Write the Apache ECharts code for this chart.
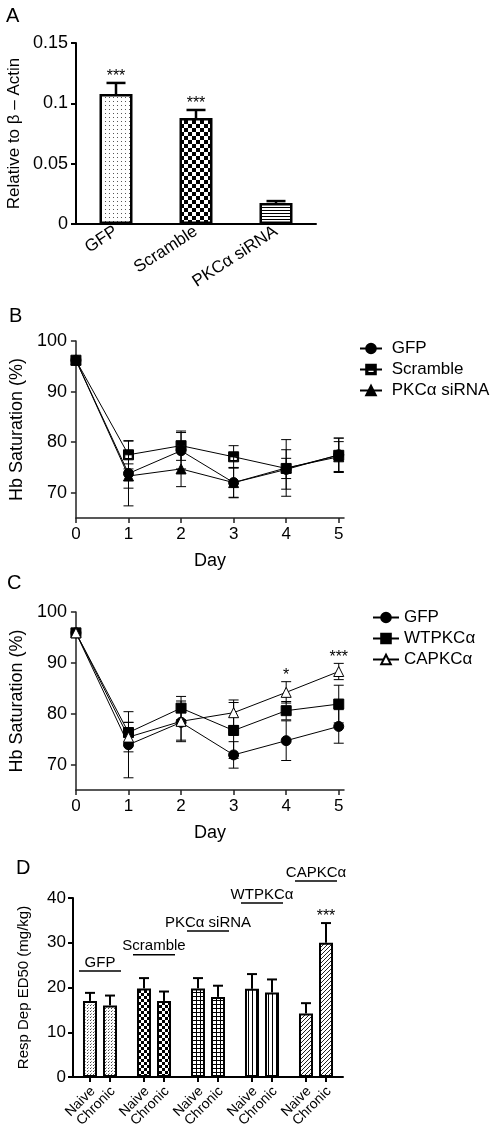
<!DOCTYPE html>
<html><head><meta charset="utf-8">
<script src="https://cdn.jsdelivr.net/npm/echarts@6/dist/echarts.min.js"></script>
<style>html,body{margin:0;padding:0;background:#fff}#c{width:494px;height:1132px}</style>
</head><body><div id="c"></div>
<script>
// ---------- DATA ----------
// Panel A
const catsA = ['GFP', 'Scramble', 'PKCα siRNA'];
const valsA = [0.1077, 0.0878, 0.0174];
const errA = [0.0092, 0.0067, 0.0016];
const starsA = ['***', '***', ''];
const ticksA = [0, 0.05, 0.1, 0.15];

// Panels B & C
const days = [0, 1, 2, 3, 4, 5];
const dayTicks = [0, 1, 2, 3, 4, 5];
const hbTicks = [70, 80, 90, 100];

const namesB = ['GFP', 'Scramble', 'PKCα siRNA'];
const bGFP = [96.2, 73.8, 78.3, 72.0, 74.6, 77.5];
const bGFPErr = [0, 6.4, 3.6, 3.0, 3.9, 3.3];
const bScr = [96.2, 77.5, 79.3, 77.1, 74.8, 77.4];
const bScrErr = [0, 2.8, 2.9, 2.2, 2.0, 3.4];
const bPKC = [96.2, 73.3, 74.7, 72.0, 74.9, 77.1];
const bPKCErr = [0, 2.4, 3.5, 2.9, 5.6, 3.0];

const namesC = ['GFP', 'WTPKCα', 'CAPKCα'];
const cGFP = [95.9, 73.9, 78.3, 71.9, 74.7, 77.5];
const cGFPErr = [0, 6.5, 3.5, 2.6, 3.9, 3.3];
const cWT = [95.9, 76.3, 81.1, 76.7, 80.6, 81.9];
const cWTErr = [0, 2.0, 2.3, 5.5, 1.8, 3.7];
const cCA = [95.9, 75.4, 78.5, 80.2, 84.2, 88.3];
const cCAErr = [0, 2.9, 4.0, 2.5, 2.1, 1.6];
const starsCA = ['', '', '', '', '*', '***'];

// Panel D
const groupsD = ['GFP', 'Scramble', 'PKCα siRNA', 'WTPKCα', 'CAPKCα'];
const condsD = ['Naive', 'Chronic'];
const naiveD = [17.0, 19.8, 19.8, 19.7, 14.2];
const naiveErrD = [1.8, 2.3, 2.3, 3.3, 2.3];
const chronicD = [16.0, 17.0, 17.9, 18.9, 30.0];
const chronicErrD = [2.2, 2.1, 2.5, 2.9, 4.4];
const starsChronicD = ['', '', '', '', '***'];
const ticksD = [0, 10, 20, 30, 40];

// ---------- STYLE / LAYOUT ----------
const FONT = '"Liberation Sans", Arial, Helvetica, sans-serif';
const labelLevelsD = [23.7, 27.3, 32.6, 38.9, 43.8]; // heights of group captions (in y units)
const BAR_W_D = 14, BAR_GAP_D = 0.43;

function pat(size, draw) {
  const c = document.createElement('canvas');
  c.width = c.height = size;
  const g = c.getContext('2d');
  g.fillStyle = '#fff'; g.fillRect(0, 0, size, size);
  g.fillStyle = '#000';
  draw(g, size);
  return { image: c, repeat: 'repeat' };
}
const patsA = [
  pat(4, g => { g.fillStyle = '#555'; g.fillRect(1, 1, 1, 1); }),
  pat(8, g => { g.fillRect(0, 0, 4, 4); g.fillRect(4, 4, 4, 4); }),
  pat(3, g => { g.fillRect(0, 0, 3, 1); })
];
const patsD = [
  pat(3, g => { g.fillStyle = '#444'; g.fillRect(0, 0, 1, 1); g.fillStyle = '#999'; g.fillRect(1, 2, 1, 1); }),
  pat(6, g => { g.fillRect(0, 0, 3, 3); g.fillRect(3, 3, 3, 3); }),
  pat(4, g => { g.fillRect(0, 0, 4, 1); g.fillRect(0, 0, 1, 4); }),
  pat(4, g => { g.fillRect(0, 0, 1, 4); }),
  pat(4, g => { g.fillStyle = '#222'; for (let i = 0; i < 4; i++) g.fillRect(i, 3 - i, 1, 1); })
];

const txt = { color: '#000', fontFamily: FONT };

function errRender(capW, lw, stars) {
  return function (params, api) {
    const x = api.value(0), y = api.value(1), e = api.value(2);
    if (!e) return { type: 'group', children: [] };
    const top = api.coord([x, y + e]), bot = api.coord([x, y - e]);
    const st = { stroke: '#000', lineWidth: lw };
    const ch = [
      { type: 'line', shape: { x1: top[0], y1: top[1], x2: bot[0], y2: bot[1] }, style: st },
      { type: 'line', shape: { x1: top[0] - capW / 2, y1: top[1], x2: top[0] + capW / 2, y2: top[1] }, style: st },
      { type: 'line', shape: { x1: bot[0] - capW / 2, y1: bot[1], x2: bot[0] + capW / 2, y2: bot[1] }, style: st }
    ];
    const s = stars && stars[params.dataIndex];
    if (s) ch.push({ type: 'text', x: top[0], y: top[1] - 6, style: { text: s, fill: '#000', font: '16px ' + FONT, align: 'center', verticalAlign: 'middle' } });
    return { type: 'group', children: ch };
  };
}

// Bar error bars (upper only), with an x offset in px for grouped bars
function barErrRender(capW, lw, stars, offset, drawTick) {
  return function (params, api) {
    const i = api.value(0), y = api.value(1), e = api.value(2);
    const base = api.coord([i, 0]);
    const p0 = api.coord([i, y]), p1 = api.coord([i, y + e]);
    const cx = p0[0] + offset;
    const st = { stroke: '#000', lineWidth: lw };
    const ch = [
      { type: 'line', shape: { x1: cx, y1: p0[1], x2: cx, y2: p1[1] }, style: st },
      { type: 'line', shape: { x1: cx - capW / 2, y1: p1[1], x2: cx + capW / 2, y2: p1[1] }, style: st }
    ];
    if (drawTick) ch.push({ type: 'line', shape: { x1: cx, y1: base[1], x2: cx, y2: base[1] + 5 }, style: { stroke: '#000', lineWidth: 2 } });
    const s = stars && stars[params.dataIndex];
    if (s) ch.push({ type: 'text', x: cx, y: p1[1] - 6, style: { text: s, fill: '#000', font: '16px ' + FONT, align: 'center', verticalAlign: 'middle' } });
    return { type: 'group', children: ch };
  };
}

const halfSquare = 'path://M0,0H10V10H0ZM1.3,5V8.7H8.7V5Z';

function lineSeries(name, vals, axis, symbol, itemStyle) {
  return {
    name, type: 'line', xAxisIndex: axis, yAxisIndex: axis,
    data: days.map((d, i) => [d, vals[i]]),
    symbol, symbolSize: 10, showSymbol: true,
    lineStyle: { color: '#000', width: 1 },
    itemStyle: Object.assign({ color: '#000', borderColor: '#000', borderWidth: 1 }, itemStyle || {}),
    z: 3, animation: false
  };
}
function errSeries(vals, errs, axis, stars) {
  return {
    type: 'custom', xAxisIndex: axis, yAxisIndex: axis,
    data: days.map((d, i) => [d, vals[i], errs[i]]),
    renderItem: errRender(10, 1, stars), z: 2, animation: false, silent: true
  };
}

const valueAxisCommon = {
  splitLine: { show: false },
  axisLine: { show: true, lineStyle: { color: '#222', width: 1.5 } },
  axisTick: { show: true, length: 5, lineStyle: { color: '#222', width: 1.5 } },
};

const offD = (BAR_W_D * (1 + BAR_GAP_D)) / 2;

const panelLetters = [
  { type: 'text', left: 6, top: 6, style: { text: 'A', font: '20px ' + FONT, fill: '#000' } },
  { type: 'text', left: 9, top: 306, style: { text: 'B', font: '20px ' + FONT, fill: '#000' } },
  { type: 'text', left: 7, top: 573, style: { text: 'C', font: '20px ' + FONT, fill: '#000' } },
  { type: 'text', left: 16, top: 858, style: { text: 'D', font: '20px ' + FONT, fill: '#000' } }
];

const option = {
  animation: false,
  textStyle: { fontFamily: FONT },
  grid: [
    { left: 76, top: 43, width: 240, height: 181 },
    { left: 74, top: 341, width: 270, height: 177 },
    { left: 74, top: 612, width: 270, height: 178 },
    { left: 73, top: 898, width: 270, height: 179 }
  ],
  xAxis: [
    { gridIndex: 0, type: 'category', data: catsA,
      axisLine: { lineStyle: { color: '#000', width: 2 } },
      axisTick: { alignWithLabel: true, length: 5, lineStyle: { color: '#000', width: 2 } },
      axisLabel: Object.assign({ rotate: 33, fontSize: 17, margin: 6, interval: 0 }, txt) },
    Object.assign({}, valueAxisCommon, { gridIndex: 1, type: 'value', min: 0, max: 5.1,
      axisTick: Object.assign({}, valueAxisCommon.axisTick, { customValues: dayTicks }),
      axisLabel: Object.assign({ fontSize: 17, margin: 8, customValues: dayTicks }, txt),
      name: 'Day', nameLocation: 'middle', nameGap: 34, nameTextStyle: Object.assign({ fontSize: 18 }, txt) }),
    Object.assign({}, valueAxisCommon, { gridIndex: 2, type: 'value', min: 0, max: 5.1,
      axisTick: Object.assign({}, valueAxisCommon.axisTick, { customValues: dayTicks }),
      axisLabel: Object.assign({ fontSize: 17, margin: 8, customValues: dayTicks }, txt),
      name: 'Day', nameLocation: 'middle', nameGap: 34, nameTextStyle: Object.assign({ fontSize: 18 }, txt) }),
    { gridIndex: 3, type: 'category', data: groupsD,
      axisLine: { lineStyle: { color: '#000', width: 2 } },
      axisTick: { show: false }, axisLabel: { show: false } }
  ],
  yAxis: [
    { gridIndex: 0, type: 'value', min: 0, max: 0.15, interval: 0.05, splitLine: { show: false },
      axisLine: { show: true, lineStyle: { color: '#000', width: 2 } },
      axisTick: { show: true, length: 5, lineStyle: { color: '#000', width: 2 } },
      axisLabel: Object.assign({ fontSize: 18, margin: 8, customValues: ticksA }, txt),
      name: 'Relative to β – Actin', nameLocation: 'middle', nameGap: 53, nameTextStyle: Object.assign({ fontSize: 17 }, txt) },
    Object.assign({}, valueAxisCommon, { gridIndex: 1, type: 'value', min: 65, max: 100,
      axisTick: Object.assign({}, valueAxisCommon.axisTick, { customValues: hbTicks }),
      axisLabel: Object.assign({ fontSize: 18, margin: 9, customValues: hbTicks }, txt),
      name: 'Hb Saturation (%)', nameLocation: 'middle', nameGap: 47, nameTextStyle: Object.assign({ fontSize: 18 }, txt) }),
    Object.assign({}, valueAxisCommon, { gridIndex: 2, type: 'value', min: 65, max: 100,
      axisTick: Object.assign({}, valueAxisCommon.axisTick, { customValues: hbTicks }),
      axisLabel: Object.assign({ fontSize: 18, margin: 9, customValues: hbTicks }, txt),
      name: 'Hb Saturation (%)', nameLocation: 'middle', nameGap: 47, nameTextStyle: Object.assign({ fontSize: 18 }, txt) }),
    { gridIndex: 3, type: 'value', min: 0, max: 40, interval: 10, splitLine: { show: false },
      axisLine: { show: true, lineStyle: { color: '#000', width: 2 } },
      axisTick: { show: true, length: 5, lineStyle: { color: '#000', width: 2 } },
      axisLabel: Object.assign({ fontSize: 17, margin: 7, customValues: ticksD }, txt),
      name: 'Resp Dep ED50 (mg/kg)', nameLocation: 'middle', nameGap: 42, nameTextStyle: Object.assign({ fontSize: 15 }, txt) }
  ],
  legend: [
    { data: namesB, orient: 'vertical', left: 354, top: 335, itemWidth: 22, itemHeight: 12, itemGap: 4,
      selectedMode: false, formatter: n => ' ' + n, textStyle: Object.assign({ fontSize: 17 }, txt) },
    { data: namesC, orient: 'vertical', left: 367, top: 604, itemWidth: 26, itemHeight: 12, itemGap: 4,
      selectedMode: false, textStyle: Object.assign({ fontSize: 17 }, txt) }
  ],
  graphic: panelLetters,
  series: [
    // Panel A
    { name: 'relA', type: 'bar', xAxisIndex: 0, yAxisIndex: 0, barWidth: 33,
      data: valsA.map((v, i) => ({ value: v, itemStyle: { color: patsA[i] } })),
      itemStyle: { borderColor: '#000', borderWidth: 2.5 }, z: 2 },
    { type: 'custom', xAxisIndex: 0, yAxisIndex: 0, data: valsA.map((v, i) => [i, v, errA[i]]),
      renderItem: barErrRender(19, 2.5, starsA, 0, false), z: 1, silent: true },
    // Panel B
    lineSeries(namesB[0], bGFP, 1, 'circle'),
    lineSeries(namesB[1], bScr, 1, halfSquare),
    lineSeries(namesB[2], bPKC, 1, 'triangle'),
    errSeries(bGFP, bGFPErr, 1),
    errSeries(bScr, bScrErr, 1),
    errSeries(bPKC, bPKCErr, 1),
    // Panel C
    lineSeries(namesC[0], cGFP, 2, 'circle'),
    lineSeries(namesC[1], cWT, 2, 'rect'),
    lineSeries(namesC[2], cCA, 2, 'triangle', { color: '#fff' }),
    errSeries(cGFP, cGFPErr, 2),
    errSeries(cWT, cWTErr, 2),
    errSeries(cCA, cCAErr, 2, starsCA),
    // Panel D
    { name: condsD[0], type: 'bar', xAxisIndex: 3, yAxisIndex: 3, barWidth: BAR_W_D, barGap: (BAR_GAP_D * 100) + '%',
      data: naiveD.map((v, i) => ({ value: v, itemStyle: { color: patsD[i] } })),
      itemStyle: { borderColor: '#000', borderWidth: 2 }, z: 2 },
    { name: condsD[1], type: 'bar', xAxisIndex: 3, yAxisIndex: 3, barWidth: BAR_W_D, barGap: (BAR_GAP_D * 100) + '%',
      data: chronicD.map((v, i) => ({ value: v, itemStyle: { color: patsD[i] } })),
      itemStyle: { borderColor: '#000', borderWidth: 2 }, z: 2 },
    { type: 'custom', xAxisIndex: 3, yAxisIndex: 3, data: naiveD.map((v, i) => [i, v, naiveErrD[i]]),
      renderItem: barErrRender(10, 2, null, -offD, true), z: 1, silent: true, clip: false },
    { type: 'custom', xAxisIndex: 3, yAxisIndex: 3, data: chronicD.map((v, i) => [i, v, chronicErrD[i]]),
      renderItem: barErrRender(10, 2, starsChronicD, offD, true), z: 1, silent: true, clip: false },
    { type: 'custom', xAxisIndex: 3, yAxisIndex: 3, clip: false, silent: true,
      data: groupsD.map((g, i) => [i, labelLevelsD[i]]),
      renderItem: function (params, api) {
        const p = api.coord([api.value(0), api.value(1)]);
        return { type: 'group', children: [
          { type: 'line', shape: { x1: p[0] - 21, y1: p[1], x2: p[0] + 21, y2: p[1] }, style: { stroke: '#000', lineWidth: 1.5 } },
          { type: 'text', x: p[0], y: p[1] - 1, style: { text: groupsD[params.dataIndex], fill: '#000', font: '15px ' + FONT, align: 'center', verticalAlign: 'bottom' } }
        ] };
      } }
  ]
};

const chart = echarts.init(document.getElementById('c'), null, { renderer: 'canvas', width: 494, height: 1132 });
chart.setOption(option);

// Rotated Naive / Chronic labels under each bar of panel D, placed through the axes
const condLabels = [];
groupsD.forEach((g, i) => {
  const p = chart.convertToPixel({ xAxisIndex: 3, yAxisIndex: 3 }, [i, 0]);
  condsD.forEach((c, k) => {
    const cx = p[0] + (k === 0 ? -offD : offD);
    condLabels.push({ type: 'text', x: cx + 3, y: p[1] + 12, rotation: Math.PI / 4, silent: true,
      style: { text: c, fill: '#000', font: '14px ' + FONT, align: 'right', verticalAlign: 'middle' } });
  });
});
chart.setOption({ graphic: panelLetters.concat(condLabels) });
</script>
</body></html>
